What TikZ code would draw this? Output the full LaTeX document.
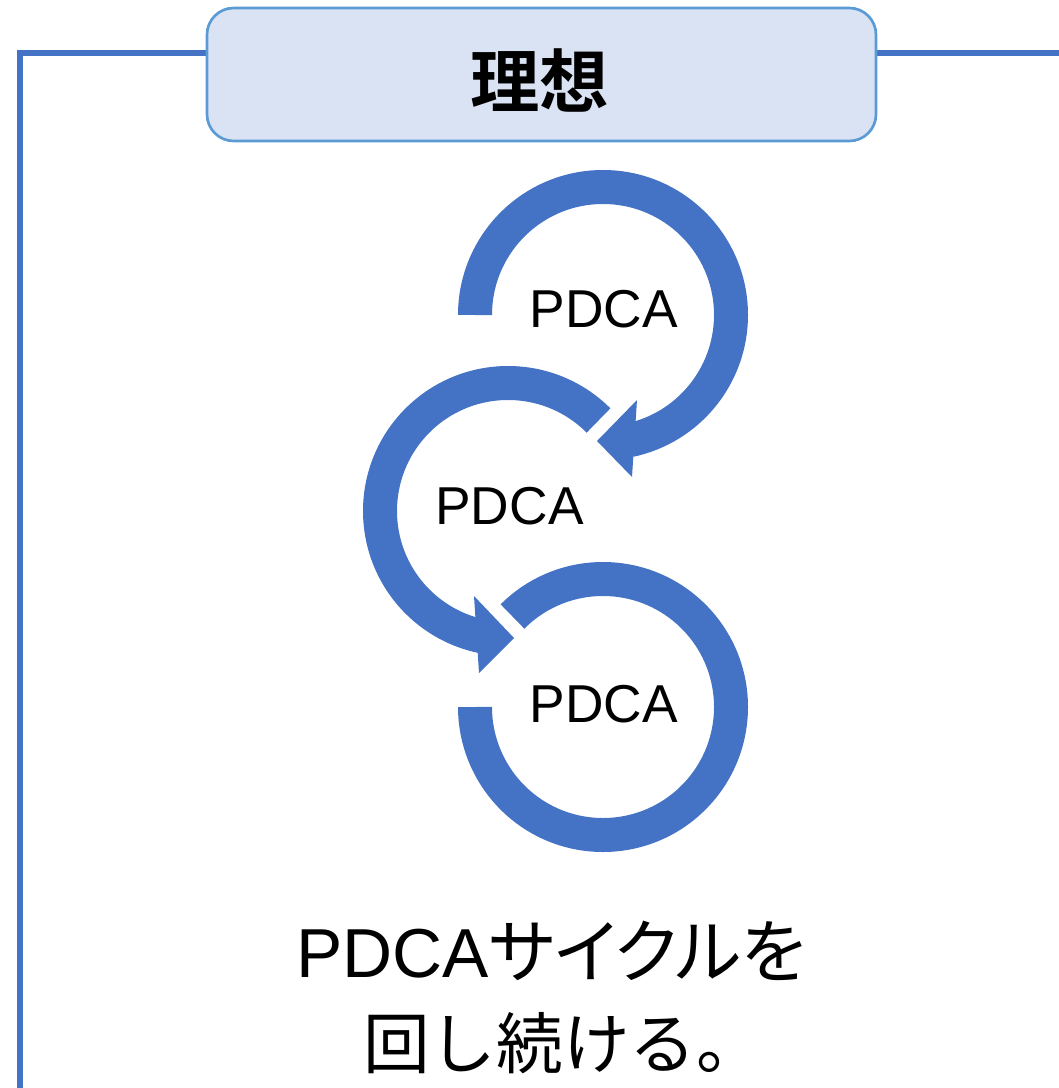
\documentclass[tikz,border=0pt]{standalone}
\usepackage{fontspec}
\setmainfont{Liberation Sans}
\newfontfamily\cjk{Noto Sans CJK JP}[BoldFont={Noto Sans CJK JP Bold}]
\newfontfamily\cjkp{Noto Sans CJK JP}[RawFeature=+palt]
\newfontfamily\lib{Liberation Sans}
\definecolor{ringblue}{HTML}{4472C4}
\definecolor{boxfill}{HTML}{DAE3F3}
\definecolor{boxline}{HTML}{5B9BD5}
\tikzset{
  frameline/.style={draw=ringblue,line width=4.5pt},
  ring/.style={draw=ringblue,line width=25.5pt,line cap=butt},
  arrowtip/.style={fill=ringblue},
  titlebox/.style={draw=boxline,fill=boxfill,line width=2pt,rounded corners=20pt,
    minimum width=501.75pt,minimum height=99.75pt,inner sep=0pt},
  titletext/.style={font=\cjk\bfseries\fontsize{52}{60}\selectfont,inner sep=0pt,anchor=center},
  lbl/.style={font=\lib\fontsize{40}{48}\selectfont,inner sep=0pt,anchor=center},
  bigtext/.style={inner sep=0pt,anchor=base}
}
\begin{document}
\begin{tikzpicture}[x=0.75pt,y=-0.75pt]
\useasboundingbox (0,0) rectangle (1059,1088);
% frame
\coordinate (fl) at (20,1100);
\coordinate (fc) at (20,53.5);
\coordinate (fr) at (1070,53.5);
\draw[frameline] (fl) -- (fc) -- (fr);
% title box
\node[titlebox] (box) at (541.5,74.5) {};
\node[titletext] (title) at (539.5,80) {理想};
% circle centres
\coordinate (c1) at (603,315);
\coordinate (c2) at (508,511);
\coordinate (c3) at (603,707);
% rings
\draw[ring] ([shift={(-180:128)}]c1) arc[start angle=-180,end angle=78,radius=128];
\draw[ring] ([shift={(-45:128)}]c2) arc[start angle=-45,end angle=-258.2,radius=128];
\draw[ring] ([shift={(-135:128)}]c3) arc[start angle=-135,end angle=180,radius=128];
% arrow heads
\coordinate (a1b1) at (637,400);
\coordinate (a1t) at (597,441);
\coordinate (a1b2) at (632,477);
\fill[arrowtip] (a1b1) -- (a1t) -- (a1b2) -- cycle;
\coordinate (a2b1) at (474,596);
\coordinate (a2t) at (514,638);
\coordinate (a2b2) at (479,673);
\fill[arrowtip] (a2b1) -- (a2t) -- (a2b2) -- cycle;
% labels
\node[lbl] (p1) at (604,309) {PDCA};
\node[lbl] (p2) at (509.5,506.5) {PDCA};
\node[lbl] (p3) at (604,704.5) {PDCA};
% bottom text
\node[bigtext] (t1) at (551,977) {{\lib\fontsize{52}{60}\selectfont PDCA}{\cjkp\fontsize{52.5}{60}\selectfont サイクルを}};
\node[bigtext] (t2) at (563,1068.5) {{\cjk\fontsize{50}{60}\selectfont 回し続ける。}};
\end{tikzpicture}
\end{document}
